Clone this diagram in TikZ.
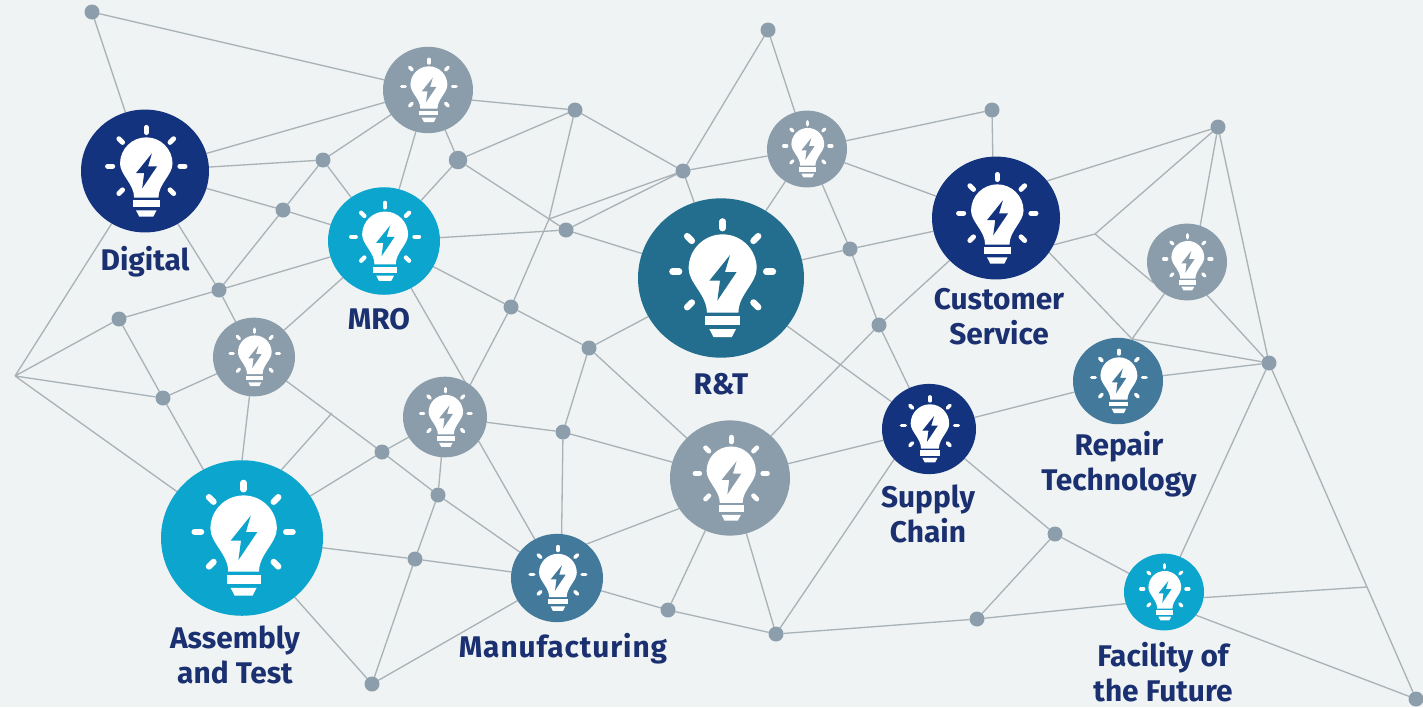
\documentclass[tikz,border=0pt]{standalone}
\usepackage{fontspec}
\setmainfont{Fira Sans}
\usetikzlibrary{backgrounds}
\usetikzlibrary{shapes.geometric}
\usetikzlibrary{positioning}
\definecolor{paper}{HTML}{EFF3F3}
\definecolor{wire}{HTML}{A9B2B7}
\definecolor{pin}{HTML}{8C9EAC}
\definecolor{navy}{HTML}{14337F}
\definecolor{sky}{HTML}{0BA5CE}
\definecolor{slate}{HTML}{8B9DAB}
\definecolor{steel}{HTML}{437A9C}
\definecolor{teal2}{HTML}{236E8E}
\definecolor{ink}{HTML}{1A3070}
\begin{document}
\begin{tikzpicture}[x=0.02cm, y=-0.02cm]
	\tikzstyle{disc}=[ellipse, draw=none, inner sep=0pt, outer sep=0pt];
	\tikzstyle{pindot}=[circle, fill=pin, inner sep=0pt, outer sep=0pt, minimum size=0.3cm];
	\tikzstyle{wirepath}=[draw=wire, line width=0.75pt];
	\tikzstyle{la}=[text=ink, align=center, inner sep=0pt, font=\bfseries\fontsize{17}{19.9}\selectfont];
	\useasboundingbox (0,0) rectangle (1423,707);
	\foreach \n/\x/\y/\rad/\col in {digital/145/171/64/navy, mro/384/241/56/sky, grayA/428/90/45/slate,
		grayB/254/357/41/slate, grayC/445/417/42/slate, assembly/242/538/81/sky, manuf/557/578/46/steel,
		grayD/730/478/60/slate, rt/721/278/83/teal2, grayE/807/149/40/slate, cust/996/218/64/navy,
		grayF/1187/262/40/slate, repair/1118/381/45/steel, supply/929/429/47/navy, facility/1164/592/40/sky}
	{
		\node[disc, fill=\col, minimum width={2*\rad*0.02cm}, minimum height={2*.96*\rad*0.02cm}] (\n) at (\x,\y) {};
		\begin{scope}[shift={(\n.center)}, x=\rad*0.02cm, y=\rad*0.02cm]
			\fill[white] (-.17,-.416) .. controls (-.17,-.2) and (-.39,-.06) .. (-.39,.116)
				arc[start angle=180, end angle=0, radius=.41]
				.. controls (.43,-.06) and (.21,-.2) .. (.21,-.416) -- cycle;
			\fill[white] (-.19,-.456) rectangle (.23,-.564);
			\fill[white] (-.14,-.616) -- (.18,-.616) -- (.13,-.712) -- (-.09,-.712) -- cycle;
			\fill[\col] (.108,.276) -- (-.14,-.032) -- (-.012,-.032) -- (-.044,-.272) -- (.188,.072) -- (.048,.072) -- cycle;
			\foreach \a in {-45,0,45,90,135,180,225}
			{\draw[white, line cap=round, line width={\rad*.078*0.02cm}] ([shift={(.02,.076)}]\a:.525) -- ([shift={(.02,.076)}]\a:.605);}
		\end{scope}
	}
	\foreach \n/\x/\y in {p1/92/12, p2/323/160, p3/283/210, p4/219/290, p5/119/319, p6/163/398,
		p9/575/110, p10/683/171, p11/566/230, p12/511/307, p13/589/348, p14/563/432,
		p15/382/452, p16/438/495, p17/415/559, p18/372/684, p19/668/610, p20/776/634, p21/768/30,
		p22/850/249, p23/879/325, p24/992/110, p25/1218/127, p26/1269/363, p27/1055/534, p28/977/619, p29/1416/699}
	{\node[pindot] (\n) at (\x,\y) {};}
	\node[pindot, minimum size=0.37cm] (p8) at (458,160) {};
	\coordinate (j1) at (1095,234);
	\coordinate (j2) at (332,413);
	\coordinate (j3) at (1367,587);
	\coordinate (j4) at (15,376);
	\coordinate (j5) at (549,219);
	\coordinate (j6) at (468,387);
	\coordinate (j7) at (462,412);
	\coordinate (j8) at (1132,339);
	\begin{scope}[on background layer]
		\fill[paper] (0,0) rectangle (1423,707);
		\draw[wirepath]
		(p1) -- (digital) (p1) -- (grayA) (digital) -- (grayA) (digital) -- (p2) (digital) -- (p3)
		(p3) -- (mro) (digital) -- (p4) (p4) -- (grayB) (p2) -- (grayA) (p2) -- (p3) (p3) -- (p4)
		(p2) -- (mro) (grayA) -- (mro) (grayA) -- (p8) (p8) -- (mro) (grayA.-13) -- (p9) (p8) -- (p9)
		(p9) -- (p10) (p9) -- (j5) (j5) -- (p12) (mro) -- (p11) (p11) -- (rt) (p8) -- (p11)
		(p10) -- (p11) (p10) -- (j5) (p10) -- (rt) (p10) -- (grayE) (p10) -- (p21) (p21) -- (grayE)
		(grayE) -- (p24) (p24) -- (cust.93) (grayE) -- (cust) (grayE) -- (rt) (grayE) -- (p22)
		(p22) -- (rt) (p22) -- (cust) (p22) -- (p23) (p23) -- (supply) (p23) -- (cust) (p23) -- (grayD)
		(rt) -- (supply) (mro) -- (p4) (mro) -- (grayB) (p4) -- (p5) (p5) -- (j4) (digital) -- (j4)
		(p5) -- (p6) (p6) -- (j4) (p6) -- (grayB) (p6) -- (assembly) (j4) -- (assembly)
		(grayB) -- (assembly.north) (grayB) -- (p15) (j2) -- (assembly.60) (p15) -- (assembly) (p15) -- (grayC)
		(p15) -- (p16) (p16) -- (manuf) (p16) -- (grayC) (p16) -- (p17) (p17) -- (assembly)
		(p17) -- (manuf) (p17) -- (p18) (assembly) -- (p18) (p18) -- (manuf) (mro) -- (j6)
		(j7) -- (manuf) (grayC) -- (p14) (grayC.52) -- (p12) (p12) -- (mro) (p12) -- (p13) (p13) -- (rt)
		(p13) -- (grayD) (p13) -- (p14) (p14) -- (grayD) (p14) -- (manuf.84) (manuf.49) -- (grayD.211)
		(manuf) -- (p19) (p19) -- (p20) (p19) -- (grayD) (grayD) -- (p20) (p20) -- (supply.221)
		(p20) -- (p28) (p28) -- (facility.197) (p28) -- (p27) (p27) -- (supply) (p27) -- (facility)
		(grayD) -- (supply) (supply) -- (repair) (repair) -- (p26) (cust.-25) -- (j1) (j1) -- (p25)
		(j1) -- (grayF.212) (cust.36) -- (p25) (cust.-33) -- (j8) (j8) -- (grayF) (j8) -- (p26)
		(grayF.-59) -- (p26) (grayF.70) -- (p25) (p25) -- (p26) (p26) -- (facility) (p26) -- (p29)
		(facility.-8) -- (j3) (facility.-36) -- (p29);
	\end{scope}
	\node[la] (digitalla) at (145,262) {Digital};
	\node[la] (mrola) at (379,319) {MRO};
	\node[la] (rtla) at (721,384) {R\&T};
	\node[la] (custla) at (999,317) {Customer\\Service};
	\node[la] (repairla) at (1119,464) {Repair\\Technology};
	\node[la] (supplyla) at (928,514) {Supply\\Chain};
	\node[la] (assemblyla) at (235,655) {Assembly\\and Test};
	\node[la, font=\bfseries\fontsize{17}{19.9}\selectfont\addfontfeature{LetterSpace=3}] (manufla) at (563,649) {Manufacturing};
	\node[la] (facilityla) at (1163,672) {Facility of\\the Future};
\end{tikzpicture}
\end{document}
